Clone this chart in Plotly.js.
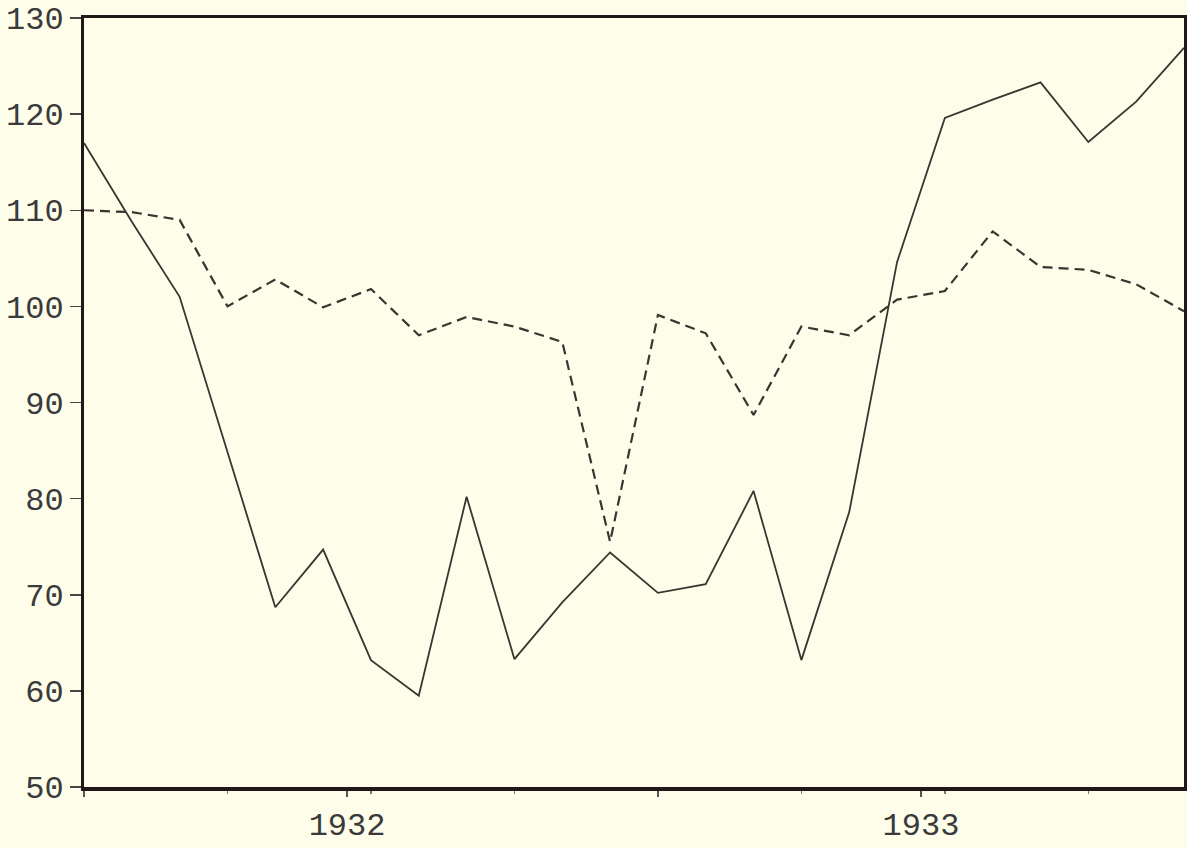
<!DOCTYPE html>
<html>
<head>
<meta charset="utf-8">
<script src="https://cdn.plot.ly/plotly-3.0.1.min.js"></script>
<style>
  html, body { margin: 0; padding: 0; background: #fdfdea; }
  #chart { width: 1187px; height: 848px; }
</style>
</head>
<body>
<div id="chart"></div>
<script>
// Monthly index values, Jan 1932 - Dec 1933
const months = ["1932-01","1932-02","1932-03","1932-04","1932-05","1932-06","1932-07","1932-08","1932-09","1932-10","1932-11","1932-12",
                "1933-01","1933-02","1933-03","1933-04","1933-05","1933-06","1933-07","1933-08","1933-09","1933-10","1933-11","1933-12"];
const solidSeries = [117.0, 108.8, 101.0, 84.8, 68.7, 74.7, 63.2, 59.5, 80.2, 63.3, 69.2, 74.4,
                     70.2, 71.1, 80.8, 63.2, 78.6, 104.6, 119.6, 121.5, 123.3, 117.1, 121.3, 126.9];
const dashedSeries = [110.0, 109.8, 109.0, 100.0, 102.8, 99.9, 101.8, 97.0, 98.9, 97.9, 96.3, 75.5,
                      99.1, 97.2, 88.7, 97.9, 97.0, 100.7, 101.6, 107.8, 104.1, 103.8, 102.3, 99.5];
const yTicks = [50, 60, 70, 80, 90, 100, 110, 120, 130];
const yearLabels = ["1932", "1933"];
const yearPositions = [5.5, 17.5];

const idx = months.map((m, i) => i);
const ink = "#3b3431";

const traces = [
  { x: idx, y: solidSeries, type: "scatter", mode: "lines", text: months,
    line: { color: ink, width: 1.8 }, hoverinfo: "text+y" },
  { x: idx, y: dashedSeries, type: "scatter", mode: "lines", text: months,
    line: { color: ink, width: 2.2, dash: "10px,6px" }, hoverinfo: "text+y" }
];

const layout = {
  width: 1187, height: 848,
  margin: { l: 84, r: 3, t: 18, b: 61 },
  paper_bgcolor: "#fdfdea",
  plot_bgcolor: "#fdfdea",
  showlegend: false,
  font: { family: "Liberation Mono, DejaVu Sans Mono, monospace", color: "#3a3a3a", size: 32 },
  xaxis: {
    range: [0, 23],
    showgrid: false, zeroline: false,
    showline: true, linecolor: "#1f1816", linewidth: 3.5, mirror: true,
    tickvals: [0, yearPositions[0], 12, yearPositions[1]],
    ticktext: ["", yearLabels[0], "", yearLabels[1]],
    ticks: "outside", ticklen: 6, tickwidth: 1.5, tickcolor: "#555",
    tickfont: { size: 32, color: "#3a3a3a", family: "Liberation Mono, monospace" },
    minor: { dtick: 3, tick0: 0, ticks: "outside", ticklen: 3, tickwidth: 1.5, tickcolor: "#777", showgrid: false }
  },
  yaxis: {
    range: [50, 130],
    showgrid: false, zeroline: false,
    showline: true, linecolor: "#1f1816", linewidth: 3, mirror: true,
    tickvals: yTicks,
    ticktext: yTicks.map(String),
    ticks: "outside", ticklen: 11, tickwidth: 1.5, tickcolor: "#444",
    tickfont: { size: 32, color: "#3a3a3a", family: "Liberation Mono, monospace" }
  }
};

Plotly.newPlot("chart", traces, layout, { displayModeBar: false, staticPlot: true });
</script>
</body>
</html>
